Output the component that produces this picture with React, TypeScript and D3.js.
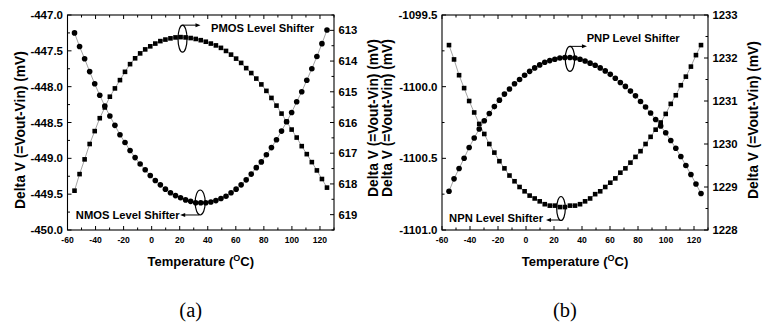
import React from "react";
import * as d3 from "d3";

// temperature sweep (deg C), shared by all four curves
const TEMPS = [
  -55, -51.4, -47.8, -44.2, -40.6, -37, -33.4, -29.8, -26.2, -22.6, -19, -15.4, -11.8,
  -8.2, -4.6, -1, 2.6, 6.2, 9.8, 13.4, 17, 20.6, 24.2, 27.8, 31.4, 35, 38.6, 42.2, 45.8,
  49.4, 53, 56.6, 60.2, 63.8, 67.4, 71, 74.6, 78.2, 81.8, 85.4, 89, 92.6, 96.2, 99.8,
  103.4, 107, 110.6, 114.2, 117.8, 121.4, 125,
];

// (a) NMOS level shifter, left axis, circles
const NMOS_DV = [
  -447.25, -447.44, -447.61, -447.79, -447.96, -448.12, -448.27, -448.41, -448.54, -448.67,
  -448.78, -448.89, -448.99, -449.08, -449.16, -449.24, -449.31, -449.37, -449.43, -449.48,
  -449.52, -449.55, -449.58, -449.6, -449.62, -449.62, -449.62, -449.61, -449.59, -449.56,
  -449.53, -449.48, -449.43, -449.37, -449.3, -449.22, -449.13, -449.05, -448.95, -448.85,
  -448.74, -448.62, -448.49, -448.36, -448.21, -448.07, -447.91, -447.75, -447.58, -447.4,
  -447.21,
];

// (a) PMOS level shifter, right axis (inverted), squares
const PMOS_DV = [
  618.22, 617.68, 617.2, 616.7, 616.28, 615.86, 615.51, 615.16, 614.89, 614.62,
  614.35, 614.1, 613.91, 613.75, 613.62, 613.52, 613.43, 613.35, 613.3, 613.26,
  613.23, 613.22, 613.23, 613.25, 613.28, 613.32, 613.37, 613.43, 613.49, 613.57,
  613.67, 613.79, 613.92, 614.06, 614.23, 614.39, 614.57, 614.76, 614.97, 615.2,
  615.45, 615.71, 615.97, 616.23, 616.49, 616.77, 617.03, 617.29, 617.56, 617.84,
  618.12,
];

// (b) NPN level shifter, left axis, squares
const NPN_DV = [
  -1099.71, -1099.81, -1099.92, -1100.01, -1100.1, -1100.18, -1100.26, -1100.33, -1100.4, -1100.46,
  -1100.52, -1100.57, -1100.62, -1100.66, -1100.7, -1100.73, -1100.76, -1100.78, -1100.8, -1100.82,
  -1100.83, -1100.83, -1100.84, -1100.84, -1100.83, -1100.83, -1100.82, -1100.8, -1100.78, -1100.75,
  -1100.73, -1100.7, -1100.67, -1100.64, -1100.6, -1100.57, -1100.53, -1100.49, -1100.45, -1100.4,
  -1100.35, -1100.3, -1100.25, -1100.19, -1100.12, -1100.06, -1099.99, -1099.93, -1099.86, -1099.78,
  -1099.71,
];

// (b) PNP level shifter, right axis, circles
const PNP_DV = [
  1228.9, 1229.19, 1229.43, 1229.67, 1229.92, 1230.14, 1230.35, 1230.54, 1230.71, 1230.87,
  1231.02, 1231.16, 1231.28, 1231.4, 1231.5, 1231.6, 1231.69, 1231.77, 1231.84, 1231.9,
  1231.94, 1231.97, 1232.0, 1232.01, 1232.01, 1232.0, 1231.97, 1231.93, 1231.88, 1231.83,
  1231.77, 1231.7, 1231.62, 1231.53, 1231.43, 1231.34, 1231.23, 1231.12, 1230.99, 1230.86,
  1230.72, 1230.57, 1230.42, 1230.26, 1230.08, 1229.9, 1229.71, 1229.5, 1229.29, 1229.07,
  1228.85,
];

const X_TICKS = [-60, -40, -20, 0, 20, 40, 60, 80, 100, 120];
const A_LEFT_TICKS = [-447.0, -447.5, -448.0, -448.5, -449.0, -449.5, -450.0];
const A_RIGHT_TICKS = [613, 614, 615, 616, 617, 618, 619];
const B_LEFT_TICKS = [-1099.5, -1100.0, -1100.5, -1101.0];
const B_RIGHT_TICKS = [1228, 1229, 1230, 1231, 1232, 1233];

const Y_TITLE = "Delta V (=Vout-Vin) (mV)";
const SANS = "'Liberation Sans', Arial, Helvetica, sans-serif";
const SERIF = "'Liberation Serif', 'Times New Roman', serif";

const TOP = 15;
const BOTTOM = 230;

const PANELS = [
  {
    key: "a",
    left: 67.5,
    right: 334,
    caption: "(a)",
    leftAxis: { domain: [-450, -447], ticks: A_LEFT_TICKS, minor: 0.25, digits: 1, titleX: 20, titleY: 130 },
    rightAxis: { domain: [619.5, 612.5], ticks: A_RIGHT_TICKS, minor: 0.5, digits: 0, titleX: 373, titleY: 118 },
    series: [
      { values: NMOS_DV, axis: "left", shape: "circle" },
      { values: PMOS_DV, axis: "right", shape: "square" },
    ],
    notes: [
      // ellipse anchor in data units, arrow/text placed relative to it
      { label: "PMOS Level Shifter", axis: "right", t: 22, v: 613.27, rx: 4.5, ry: 13.5, dir: 1, arrowY: -13.5, arrowLen: 18, textDx: 28.5, textDy: -6.8 },
      { label: "NMOS Level Shifter", axis: "left", t: 34.6, v: -449.616, rx: 5, ry: 12.5, dir: -1, arrowY: 12.5, arrowLen: 19, textDx: -20.5, textDy: 16.5 },
    ],
  },
  {
    key: "b",
    left: 442,
    right: 708,
    caption: "(b)",
    leftAxis: { domain: [-1101, -1099.5], ticks: B_LEFT_TICKS, minor: 0.25, digits: 1, titleX: 387, titleY: 118 },
    rightAxis: { domain: [1228, 1233], ticks: B_RIGHT_TICKS, minor: 0.5, digits: 0, titleX: 753, titleY: 120 },
    series: [
      { values: NPN_DV, axis: "left", shape: "square" },
      { values: PNP_DV, axis: "right", shape: "circle" },
    ],
    notes: [
      { label: "PNP Level Shifter", axis: "right", t: 31.4, v: 1231.98, rx: 4.7, ry: 12.5, dir: 1, arrowY: -12.5, arrowLen: 17, textDx: 16.7, textDy: -17 },
      { label: "NPN Level Shifter", axis: "left", t: 25, v: -1100.85, rx: 4.3, ry: 12, dir: -1, arrowY: 11.5, arrowLen: 14, textDx: -18, textDy: 13 },
    ],
  },
];

function minorTicks(domain: number[], step: number) {
  const lo = Math.min(domain[0], domain[1]);
  const hi = Math.max(domain[0], domain[1]);
  return d3.range(lo, hi + step / 2, step);
}

function Panel({ p }: { p: (typeof PANELS)[number] }) {
  const x = d3.scaleLinear().domain([-60, 130]).range([p.left, p.right]);
  const yL = d3.scaleLinear().domain(p.leftAxis.domain).range([BOTTOM, TOP]);
  const yR = d3.scaleLinear().domain(p.rightAxis.domain).range([BOTTOM, TOP]);
  const yOf = (axis: string) => (axis === "left" ? yL : yR);

  const xMinor = d3.range(-60, 131, 10);

  return (
    <g>
      {/* connecting lines */}
      {p.series.map((s, si) => {
        const y = yOf(s.axis);
        const line = d3
          .line<number>()
          .x((_, i) => x(TEMPS[i]))
          .y((v) => y(v));
        return <path key={"l" + si} d={line(s.values) || ""} fill="none" stroke="#8c8c8c" strokeWidth={0.8} />;
      })}

      {/* markers */}
      {p.series.map((s, si) => {
        const y = yOf(s.axis);
        return (
          <g key={"m" + si}>
            {s.values.map((v, i) =>
              s.shape === "circle" ? (
                <circle key={i} cx={x(TEMPS[i])} cy={y(v)} r={2.8} fill="#000" />
              ) : (
                <rect key={i} x={x(TEMPS[i]) - 2.3} y={y(v) - 2.3} width={4.6} height={4.6} fill="#000" />
              )
            )}
          </g>
        );
      })}

      {/* frame */}
      <rect x={p.left} y={TOP} width={p.right - p.left} height={BOTTOM - TOP} fill="none" stroke="#000" strokeWidth={1.1} />

      {/* x ticks (bottom and top, inward) */}
      {xMinor.map((t) => {
        const len = t % 20 === 0 ? 4 : 2.5;
        return (
          <g key={"xt" + t}>
            <line x1={x(t)} x2={x(t)} y1={BOTTOM} y2={BOTTOM - len} stroke="#000" strokeWidth={1} />
            <line x1={x(t)} x2={x(t)} y1={TOP} y2={TOP + len} stroke="#000" strokeWidth={1} />
          </g>
        );
      })}
      {X_TICKS.map((t) => (
        <text key={"xl" + t} x={x(t)} y={242.5} textAnchor="middle" fontFamily={SANS} fontWeight="bold" fontSize={8.6}>
          {t}
        </text>
      ))}
      <text x={(p.left + p.right) / 2} y={265.5} textAnchor="middle" fontFamily={SANS} fontWeight="bold" fontSize={13}>
        Temperature (
        <tspan fontSize={9} dy={-5}>O</tspan>
        <tspan dy={5}>C)</tspan>
      </text>

      {/* left axis */}
      {minorTicks(p.leftAxis.domain, p.leftAxis.minor).map((v, i) => {
        const major = p.leftAxis.ticks.some((t) => Math.abs(t - v) < 1e-6);
        return <line key={"lt" + i} x1={p.left} x2={p.left + (major ? 4 : 2.5)} y1={yL(v)} y2={yL(v)} stroke="#000" strokeWidth={1} />;
      })}
      {p.leftAxis.ticks.map((t) => (
        <text key={"ll" + t} x={p.left - 4.5} y={yL(t)} dy="0.36em" textAnchor="end" fontFamily={SANS} fontWeight="bold" fontSize={11.5}>
          {t.toFixed(p.leftAxis.digits)}
        </text>
      ))}
      <text
        transform={`translate(${p.leftAxis.titleX},${p.leftAxis.titleY}) rotate(-90)`}
        textAnchor="middle"
        dy="0.36em"
        fontFamily={SANS}
        fontWeight="bold"
        fontSize={13.8}
      >
        {Y_TITLE}
      </text>

      {/* right axis */}
      {minorTicks(p.rightAxis.domain, p.rightAxis.minor).map((v, i) => {
        const major = p.rightAxis.ticks.some((t) => Math.abs(t - v) < 1e-6);
        return <line key={"rt" + i} x1={p.right} x2={p.right - (major ? 4 : 2.5)} y1={yR(v)} y2={yR(v)} stroke="#000" strokeWidth={1} />;
      })}
      {p.rightAxis.ticks.map((t) => (
        <text key={"rl" + t} x={p.right + 4.5} y={yR(t)} dy="0.36em" textAnchor="start" fontFamily={SANS} fontWeight="bold" fontSize={11.3}>
          {t.toFixed(p.rightAxis.digits)}
        </text>
      ))}
      <text
        transform={`translate(${p.rightAxis.titleX},${p.rightAxis.titleY}) rotate(-90)`}
        textAnchor="middle"
        dy="0.36em"
        fontFamily={SANS}
        fontWeight="bold"
        fontSize={13.8}
      >
        {Y_TITLE}
      </text>

      {/* annotations: ellipse + arrow + label */}
      {p.notes.map((n) => {
        const cx = x(n.t);
        const cy = yOf(n.axis)(n.v);
        const ay = cy + n.arrowY;
        const ax0 = n.dir > 0 ? cx : cx - 1;
        const ax1 = ax0 + n.dir * n.arrowLen;
        return (
          <g key={n.label}>
            <ellipse cx={cx} cy={cy} rx={n.rx} ry={n.ry} fill="none" stroke="#000" strokeWidth={1.2} />
            <line x1={ax0} x2={ax1 - n.dir * 4} y1={ay} y2={ay} stroke="#000" strokeWidth={1} />
            <path d={`M${ax1},${ay} L${ax1 - n.dir * 5},${ay - 2} L${ax1 - n.dir * 5},${ay + 2} Z`} fill="#000" />
            <text
              x={cx + n.textDx}
              y={cy + n.textDy}
              textAnchor={n.dir > 0 ? "start" : "end"}
              fontFamily={SANS}
              fontWeight="bold"
              fontSize={11.2}
            >
              {n.label}
            </text>
          </g>
        );
      })}

      <text x={(p.left + p.right) / 2 - 10} y={317} textAnchor="middle" fontFamily={SERIF} fontSize={20.5}>
        {p.caption}
      </text>
    </g>
  );
}

export default function App() {
  return (
    <svg
      width={767}
      height={326}
      viewBox="0 0 767 326"
      style={{ position: "absolute", left: 0, top: 0, background: "#fff" }}
    >
      <rect width={767} height={326} fill="#fff" />
      {PANELS.map((p) => (
        <Panel key={p.key} p={p} />
      ))}
    </svg>
  );
}
